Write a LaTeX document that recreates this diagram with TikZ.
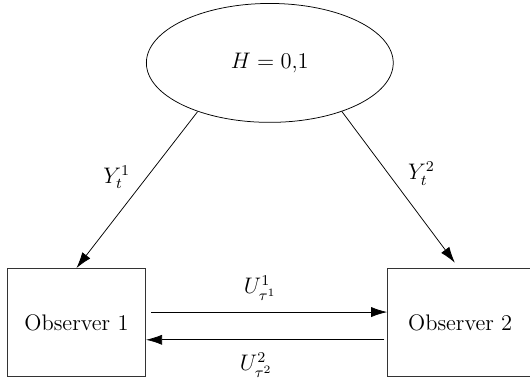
\documentclass[tikz,border=0pt]{standalone}
\usepackage{amsmath}
\usetikzlibrary{
  arrows.meta,
  shapes.geometric,
  positioning
}
\tikzset{
  hypnode/.style={draw, ellipse, minimum width=4.63cm, minimum height=2.23cm, font=\large},
  obsnode/.style={draw, black!80, text=black, minimum width=2.59cm, minimum height=2.03cm, semithick, font=\large},
  sigarrow/.style={-{Latex[length=3mm, width=1.9mm]}},
  siglabel/.style={font=\large}
}
\begin{document}
\begin{tikzpicture}
  \useasboundingbox (0,0) rectangle (9.94,7.14);
  \node[hypnode] (h) at (5.06,5.96) {$H=0{,}1$};
  \node[obsnode, below left=2.725cm and 2.32cm of h.south] (o1) {Observer 1};
  \node[obsnode, minimum width=2.72cm, right=4.52cm of o1] (o2) {Observer 2};
  \draw[sigarrow] (h.214) -- node[siglabel, left=1.9mm, pos=0.42] {$Y^1_t$} (o1.north);
  \draw[sigarrow] (h.326) -- node[siglabel, right=2.5mm, pos=0.41] {$Y^2_t$} ([xshift=-1mm, yshift=1mm]o2.north);
  \draw[sigarrow] ([xshift=1mm, yshift=2mm]o1.east) -- node[siglabel, above=0.9mm, xshift=-1.7mm] {$U^1_{\tau^1}$} ([yshift=2mm]o2.west);
  \draw[sigarrow] ([xshift=-0.5mm, yshift=-3.2mm]o2.west) -- node[siglabel, below=1.25mm, xshift=-1.7mm] {$U^2_{\tau^2}$} ([yshift=-3.2mm]o1.east);
\end{tikzpicture}
\end{document}
